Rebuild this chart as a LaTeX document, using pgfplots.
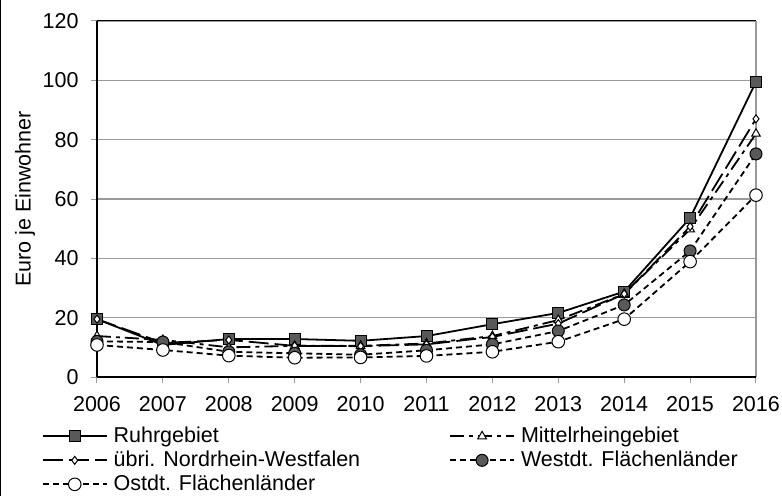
\documentclass[border=0pt]{standalone}
\usepackage{fontspec}
\setmainfont{Liberation Sans}
\usepackage{pgfplots}
\pgfplotsset{compat=1.18}
\definecolor{mgray}{HTML}{595959}
\definecolor{ggray}{HTML}{9A9A9A}
\begin{document}
\begin{tikzpicture}[font=\fontsize{21.5bp}{25bp}\selectfont]
\begin{axis}[at={(0,0)}, anchor=south west, scale only axis,
  width=659bp, height=356bp,
  xmin=2006, xmax=2016, ymin=0, ymax=120,
  xtick={2006,2007,...,2016}, ytick={0,20,...,120},
  /pgf/number format/1000 sep={}, /pgf/number format/assume math mode=true,
  axis line style={draw=none},
  ymajorgrids, grid style={ggray, line width=1.5bp},
  tick align=outside, xtick pos=left, ytick pos=left,
  major tick length=6bp, tick style={ggray, line width=1bp},
  xticklabel style={yshift=-10bp},
  yticklabel style={xshift=-9bp},
  ylabel={Euro je Einwohner},
  every axis y label/.style={at={(axis description cs:-0.109,0.5)}, rotate=90, anchor=center},
  clip=false,
  legend columns=2,
  legend style={draw=none, fill=none, at={(axis description cs:-0.084,-0.138)}, anchor=north west,
    cells={anchor=west}, row sep=4bp, inner sep=0bp,
    nodes={inner xsep=6bp, inner ysep=1bp, text height=15bp, text depth=3bp},
    /tikz/every even column/.append style={column sep=83bp}},
  legend image code/.code={\draw[mark repeat=2, mark phase=2] plot coordinates {(0bp,0bp)(32bp,0bp)(64bp,0bp)};},
]
\draw[black, line width=1bp] (rel axis cs:0,1) -- (rel axis cs:1,1);
\draw[ggray, line width=1.5bp] (rel axis cs:1,0) -- (rel axis cs:1,1);
\draw[black, line width=1.5bp] (rel axis cs:0,0) -- (rel axis cs:0,1);
\draw[black, line width=2.5bp] (rel axis cs:0,0) -- (rel axis cs:1,0);

\addplot[black, line width=1.8bp, mark=square*, mark size=5.5bp, mark options={solid, fill=mgray, line width=1bp}]
coordinates {(2006,19.5)(2007,10.8)(2008,12.8)(2009,12.8)(2010,12.2)(2011,13.8)(2012,17.8)(2013,21.6)(2014,28.8)(2015,53.6)(2016,99.5)};
\addlegendentry{Ruhrgebiet}
\addplot[black, line width=1.8bp, dash pattern=on 14bp off 5bp on 4bp off 5bp, mark=triangle*, mark size=5bp, mark options={solid, fill=white, line width=1bp}]
coordinates {(2006,13.8)(2007,12.5)(2008,10.0)(2009,10.5)(2010,10.5)(2011,11.3)(2012,13.8)(2013,19.2)(2014,28.0)(2015,49.8)(2016,82.0)};
\addlegendentry{Mittelrheingebiet}
\addplot[black, line width=1.8bp, dash pattern=on 20bp off 6bp, mark=diamond*, mark size=4bp, mark options={solid, fill=white, line width=1bp}]
coordinates {(2006,19.5)(2007,11.5)(2008,12.5)(2009,10.5)(2010,10.4)(2011,11.0)(2012,13.5)(2013,18.0)(2014,28.0)(2015,50.7)(2016,87.0)};
\addlegendentry{übri. Nordrhein-Westfalen}
\addplot[black, line width=1.8bp, dash pattern=on 6bp off 4bp, mark=*, mark size=6bp, mark options={solid, fill=mgray, line width=1bp}]
coordinates {(2006,12.0)(2007,11.8)(2008,8.5)(2009,8.0)(2010,7.5)(2011,9.0)(2012,11.0)(2013,15.5)(2014,24.3)(2015,42.5)(2016,75.2)};
\addlegendentry{Westdt. Flächenländer}
\addplot[black, line width=1.8bp, dash pattern=on 6bp off 4bp, mark=*, mark size=6.3bp, mark options={solid, fill=white, line width=1bp}]
coordinates {(2006,10.8)(2007,9.1)(2008,7.2)(2009,6.5)(2010,6.6)(2011,7.1)(2012,8.5)(2013,11.9)(2014,19.5)(2015,38.9)(2016,61.3)};
\addlegendentry{Ostdt. Flächenländer}
\end{axis}
\pgfresetboundingbox
\path[use as bounding box] (-97bp,-119bp) rectangle (685bp,377bp);
\draw[line width=1.5bp] (-96.25bp,-119bp) -- (-96.25bp,377bp);
\end{tikzpicture}
\end{document}
